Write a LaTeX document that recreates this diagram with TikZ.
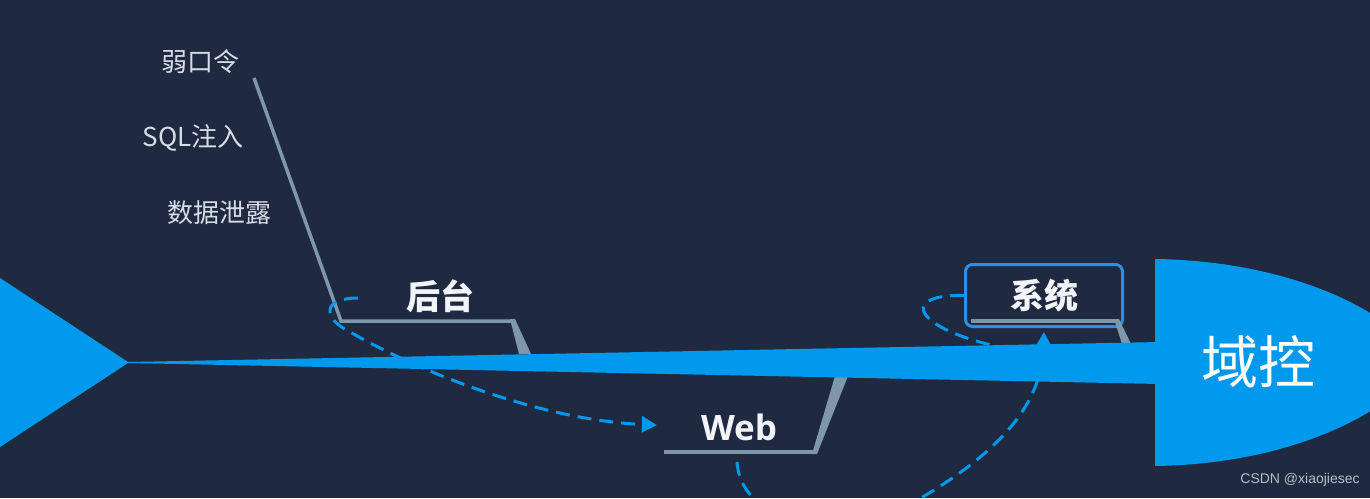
\documentclass[tikz,border=0pt]{standalone}
\usepackage{fontspec}
\newfontfamily\cjk{Noto Sans CJK SC}
\newfontfamily\wm{Liberation Sans}
\newfontfamily\latinb{Open Sans}
\usetikzlibrary{arrows.meta}
\definecolor{bgc}{HTML}{1F2A40}
\definecolor{fishblue}{HTML}{0099EE}
\definecolor{boxblue}{HTML}{2A90EC}
\definecolor{bonegray}{HTML}{7E97A9}
\definecolor{labelc}{HTML}{D6DCE8}
\definecolor{titlec}{HTML}{F2F4FA}
\definecolor{wmc}{HTML}{B8BEC8}
\tikzset{
  small/.style={font=\cjk\fontsize{26}{28}\selectfont, text=labelc, inner sep=0pt},
  title/.style={font=\cjk\bfseries\fontsize{34}{36}\selectfont, text=titlec, inner sep=0pt},
  bone/.style={draw=bonegray, line width=3.5pt, line join=miter},
  wedge/.style={fill=bonegray},
  flow/.style={draw=fishblue, line width=3pt, dash pattern=on 14pt off 8pt},
  flowarrow/.style={flow, -{Triangle[length=15pt,width=16pt]}}
}
\begin{document}
\begin{tikzpicture}[x=1pt,y=-1pt]
\fill[bgc] (0,0) rectangle (1370,498);
\useasboundingbox (0,0) rectangle (1370,498);

% labels of upper bone
\node[small] (weak) at (200,62) {弱口令};
\node[small] (sql) at (193,138) {SQL注入};
\node[small] (leak) at (219,213) {数据泄露};

% named points
\coordinate (b1top) at (254,78);
\coordinate (b1corner) at (341,321);
\coordinate (b1end) at (512,321);
\coordinate (webL) at (664,452);
\coordinate (webR) at (814,452);
\coordinate (loopstart) at (358,298);
\coordinate (sysloopend) at (1015,350);
\coordinate (websrc) at (737,462);
\coordinate (arrtip) at (1044,332);

% titles
\node[title] (houtai) at (440,296) {后台};
\node[title, font=\latinb\bfseries\fontsize{35}{37}\selectfont] (web) at (739,427) {Web};
\node[title, draw=boxblue, line width=3pt, rounded corners=7pt,
      minimum width=157pt, minimum height=62pt] (xitong) at (1044,295.5) {系统};

% bones
\draw[bone] (b1top) -- (b1corner) -- (b1end);
\fill[wedge] (510,319) -- (515,319) -- (531,354) -- (519,354) -- cycle;
\draw[bone] (webL) -- (webR);
\fill[wedge] (812,454) -- (817,454) -- (848,376) -- (835,376) -- cycle;
\draw[bone] (971,321) -- (1116,321);
\fill[wedge] (1114,319) -- (1119,319) -- (1131,344) -- (1122,344) -- cycle;

% dashed flows
\draw[flowarrow, shorten >=44pt] (loopstart) .. controls (322,298) and (322,318) .. (350,332)
   .. controls (420,372) and (540,420) .. (web.west);
\draw[flow] (xitong.west) .. controls (895,294) and (915,332) .. (sysloopend);
\draw[flowarrow] (websrc) .. controls (742,530) and (850,540) .. (921,498)
   .. controls (990,457) and (1042,410) .. (arrtip);

% fish body
\fill[fishblue] (0,278) -- (128,362) -- (1160,342) -- (1160,384) -- (128,363) -- (0,447) -- cycle;
\fill[fishblue] (1155,259) .. controls (1290,261) and (1390,310) .. (1425,362)
   .. controls (1390,414) and (1290,464) .. (1155,466) -- cycle;
\node[font=\cjk\fontsize{57}{60}\selectfont, text=white, inner sep=0pt] (yukong) at (1258,362) {域控};

% watermark
\node[font=\wm\fontsize{14}{16}\selectfont, text=wmc, inner sep=0pt] (mark) at (1300,480) {CSDN @xiaojiesec};
\end{tikzpicture}
\end{document}
